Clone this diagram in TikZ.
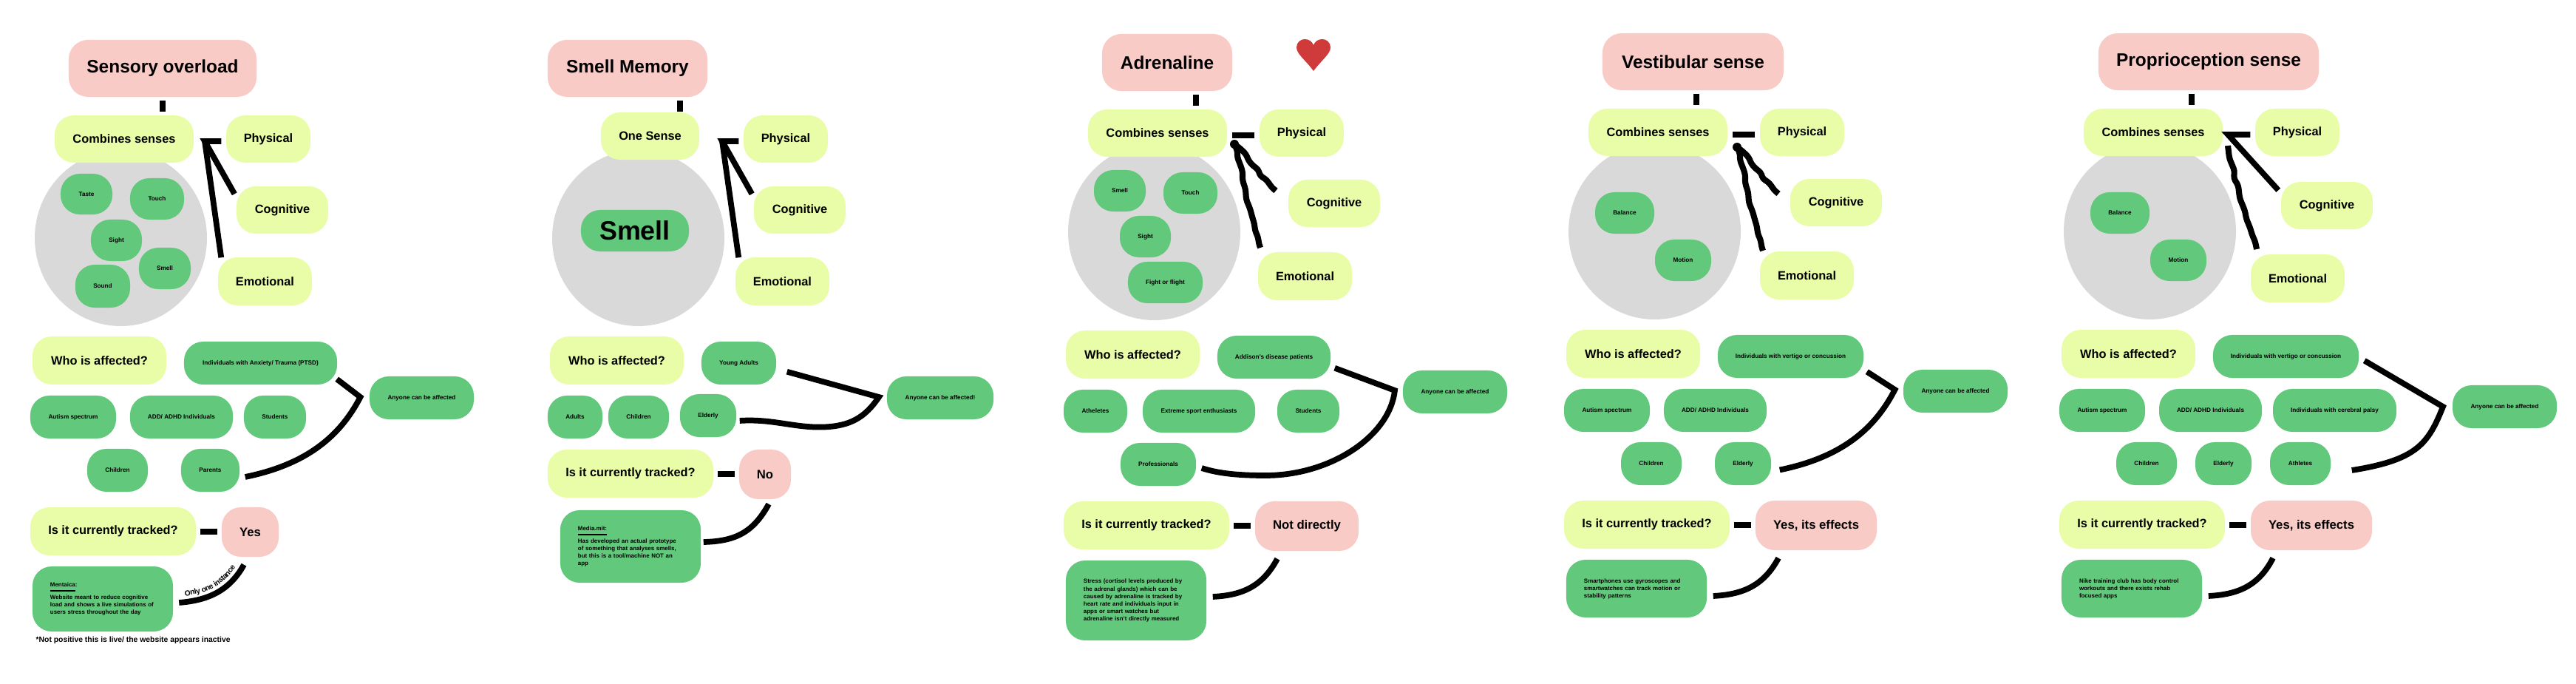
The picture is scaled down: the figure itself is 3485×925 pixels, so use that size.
\documentclass[tikz,border=0pt]{standalone}
\usepackage{fontspec}
\setmainfont{Liberation Sans}
\usepackage{xcolor}
\usetikzlibrary{calc,decorations.text}
\definecolor{topicbg}{HTML}{F8CBC6}
\definecolor{askbg}{HTML}{E9FDA8}
\definecolor{leafbg}{HTML}{62C97C}
\definecolor{blobbg}{HTML}{D9D9D9}
\definecolor{heartred}{HTML}{CF3A3B}
\def\onefont{\fontsize{2.9}{3.4}\selectfont\bfseries}
\tikzset{
  boxed/.style={rectangle, rounded corners=7.4pt, inner sep=0pt, align=center, text=black},
  sz/.style 2 args={minimum width=#1*0.2845pt, minimum height=#2*0.2845pt},
  topic/.style={boxed, fill=topicbg, font=\fontsize{6.95}{8}\selectfont\bfseries},
  answer/.style={boxed, fill=topicbg, font=\fontsize{4.75}{6}\selectfont\bfseries},
  ask/.style={boxed, fill=askbg, font=\fontsize{4.65}{6}\selectfont\bfseries},
  leaf/.style={boxed, fill=leafbg, font=\fontsize{2.33}{2.85}\selectfont\bfseries},
  bigleaf/.style={boxed, fill=leafbg, font=\fontsize{10.2}{12}\selectfont\bfseries},
  para/.style={leaf, align=left, text width=40.4pt, font=\fontsize{2.25}{2.85}\selectfont\bfseries},
  note/.style={inner sep=0pt, text=black, font=\fontsize{2.95}{3.4}\selectfont\bfseries},
  blob/.style={fill=blobbg},
  link/.style={draw=black, line width=2.2pt},
  scrawl/.style={draw=black, line width=2.3pt, rounded corners=1pt},
  hubdot/.style={fill=black},
}
\def\wigcog{-- ++(8,6) -- ++(8,8) -- ++(3,8) -- ++(6,7) -- ++(7,5) -- ++(3,9) -- ++(7,4) -- ++(5,6) -- ++(3,5) -- ++(6,5)}
\def\wigemo{-- ++(4,9) -- ++(0,9) -- ++(4,10) -- ++(3,9) -- ++(0,12) -- ++(4,12) -- ++(1,14) -- ++(5,12) -- ++(3,11) -- ++(3,10) -- ++(1,9) -- ++(4,9) -- ++(1,8) -- ++(2,6)}
\begin{document}
\begin{tikzpicture}[x=0.01cm,y=-0.01cm]
  \useasboundingbox (0,0) rectangle (3485,925);

  % panel 1
  \fill[blob] (163.5,322) ellipse [x radius=116.5, y radius=119];
  \node[topic,sz={254}{77}] (title1) at (220,92.5) {Sensory overload};
  \node[ask,sz={188}{64}] (combine1) at (168,188) {Combines senses};
  \node[ask,sz={114}{64}] (physical1) at (363,188) {Physical};
  \node[ask,sz={124}{64}] (cognitive1) at (382,284) {Cognitive};
  \node[ask,sz={127}{65}] (emotional1) at (358.5,380.5) {Emotional};
  \node[leaf,sz={70}{55}] (taste1) at (117,262.5) {Taste};
  \node[leaf,sz={73}{56}] (touch1) at (212.5,269) {Touch};
  \node[leaf,sz={69}{56}] (sight1) at (157.5,325) {Sight};
  \node[leaf,sz={70}{56}] (smell1) at (223,363) {Smell};
  \node[leaf,sz={74}{58}] (sound1) at (139,387) {Sound};
  \node[ask,sz={181}{65}] (who1) at (134.5,487.5) {Who is affected?};
  \node[leaf,sz={207}{58}] (anxiety1) at (352.5,491) {Individuals with Anxiety/ Trauma (PTSD)};
  \node[leaf,sz={141}{58}] (anyone1) at (570.5,538) {Anyone can be affected};
  \node[leaf,sz={116}{58}] (autism1) at (99,564) {Autism spectrum};
  \node[leaf,sz={139}{58}] (adhd1) at (245.5,564) {ADD/ ADHD Individuals};
  \node[leaf,sz={84}{58}] (students1) at (372,564) {Students};
  \node[leaf,sz={82}{58}] (children1) at (159,636) {Children};
  \node[leaf,sz={79}{58}] (parents1) at (284.5,636) {Parents};
  \node[ask,sz={224}{65}] (tracked1) at (153,718.5) {Is it currently tracked?};
  \node[answer,sz={77}{67}] (yes1) at (338.5,719.5) {Yes};
  \node[para,sz={190}{88}] (mentaica1) at (139,810) {\underline{Mentaica}:\\Website meant to reduce cognitive\\load and shows a live simulations of\\users stress throughout the day};
  \node[note,anchor=west] (foot1) at (48,866) {*Not positive this is live/ the website appears inactive};
  \coordinate (hub1) at (277,191);
  \coordinate (elbow1) at (487.5,537);
  \draw[link] ([shift={(0,4)}]title1.south) -- ([shift={(52,-4)}]combine1.north);
  \draw[link] ([shift={(-6,3)}]physical1.west) -- (hub1) -- ([shift={(-2,11)}]cognitive1.north west);
  \draw[link] (hub1) -- ([shift={(5,1)}]emotional1.north west);
  \draw[link] ([shift={(-1,-8)}]anxiety1.south east) -- (elbow1) .. controls (460,590) and (415,628) .. ([shift={(7,9)}]parents1.east);
  \draw[link] ([shift={(5,0.5)}]tracked1.east) -- ([shift={(-5,-0.5)}]yes1.west);
  \draw[link] ([shift={(-8.5,10)}]yes1.south) .. controls (310,800) and (280,812) .. ([shift={(7.5,5)}]mentaica1.east);
  \path[decorate,decoration={text along path,raise=2.3pt,text align={center},text={|\onefont|Only one instance}}]
    ([shift={(7.5,5)}]mentaica1.east) .. controls (280,812) and (310,800) .. ([shift={(-8.5,10)}]yes1.south);

  % panel 2
  \fill[blob] (863.5,322) ellipse [x radius=116.5, y radius=119];
  \node[topic,sz={216}{77}] (title2) at (849,92.5) {Smell Memory};
  \node[ask,sz={133}{64}] (onesense2) at (879.5,184) {One Sense};
  \node[ask,sz={114}{64}] (physical2) at (1063,188) {Physical};
  \node[ask,sz={124}{64}] (cognitive2) at (1082,284) {Cognitive};
  \node[ask,sz={127}{65}] (emotional2) at (1058.5,380.5) {Emotional};
  \node[bigleaf,sz={146}{56}] (smell2) at (859,312) {Smell};
  \node[ask,sz={181}{65}] (who2) at (834.5,487.5) {Who is affected?};
  \node[leaf,sz={101}{58}] (young2) at (999.5,491) {Young Adults};
  \node[leaf,sz={144}{58}] (anyone2) at (1272,538) {Anyone can be affected!};
  \node[leaf,sz={74}{58}] (adults2) at (778,564) {Adults};
  \node[leaf,sz={82}{58}] (children2) at (864,564) {Children};
  \node[leaf,sz={76}{58}] (elderly2) at (958,562) {Elderly};
  \node[ask,sz={224}{65}] (tracked2) at (853,640.5) {Is it currently tracked?};
  \node[answer,sz={70}{67}] (no2) at (1035,641.5) {No};
  \node[para,sz={190}{98}] (media2) at (853,739) {\underline{Media.mit:}\\Has developed an actual prototype\\of something that analyses smells,\\but this is a tool/machine NOT an\\app};
  \coordinate (hub2) at (977,191);
  \coordinate (elbow2) at (1189,537);
  \draw[link] ([shift={(71,4)}]title2.south) -- ([shift={(40.5,0)}]onesense2.north);
  \draw[link] ([shift={(-6,3)}]physical2.west) -- (hub2) -- ([shift={(-2,11)}]cognitive2.north west);
  \draw[link] (hub2) -- ([shift={(5,1)}]emotional2.north west);
  \draw[link] ([shift={(14,-18)}]young2.south east) -- (elbow2) .. controls (1170,565) and (1150,576) .. (1115,577.5) .. controls (1075,579) and (1045,566) .. ([shift={(4,7)}]elderly2.east);
  \draw[link] ([shift={(5,0.5)}]tracked2.east) -- ([shift={(-5,-0.5)}]no2.west);
  \draw[link] ([shift={(5,6)}]no2.south) .. controls (1019,720) and (995,732) .. ([shift={(3,-6)}]media2.east);

  % panel 3
  \fill[blob] (1561.5,314) ellipse [x radius=116.5, y radius=119];
  \node[topic,sz={176}{77}] (title3) at (1579,84.5) {Adrenaline};
  \fill[heartred] (1777,96) .. controls (1766,81) and (1754,73) .. (1754,64) .. controls (1754,57) and (1760,53) .. (1765,53)
    .. controls (1771,53) and (1775,56) .. (1777,61) .. controls (1779,56) and (1783,53) .. (1789,53)
    .. controls (1794,53) and (1800,57) .. (1800,64) .. controls (1800,73) and (1788,81) .. (1777,96) -- cycle;
  \node[ask,sz={188}{64}] (combine3) at (1566,180) {Combines senses};
  \node[ask,sz={114}{64}] (physical3) at (1761,180) {Physical};
  \node[ask,sz={124}{64}] (cognitive3) at (1805,275) {Cognitive};
  \node[ask,sz={127}{65}] (emotional3) at (1765.5,373.5) {Emotional};
  \node[leaf,sz={70}{56}] (smell3) at (1515,258) {Smell};
  \node[leaf,sz={73}{56}] (touch3) at (1610.5,261) {Touch};
  \node[leaf,sz={69}{56}] (sight3) at (1549.5,320) {Sight};
  \node[leaf,sz={101}{56}] (fight3) at (1576.5,382) {Fight or flight};
  \node[ask,sz={181}{65}] (who3) at (1532.5,479.5) {Who is affected?};
  \node[leaf,sz={153}{58}] (addison3) at (1723.5,483) {Addison's disease patients};
  \node[leaf,sz={141}{58}] (anyone3) at (1968.5,530) {Anyone can be affected};
  \node[leaf,sz={86}{58}] (atheletes3) at (1482,556) {Atheletes};
  \node[leaf,sz={152}{58}] (extreme3) at (1622,556) {Extreme sport enthusiasts};
  \node[leaf,sz={84}{58}] (students3) at (1770,556) {Students};
  \node[leaf,sz={102}{58}] (pros3) at (1567,628) {Professionals};
  \node[ask,sz={224}{65}] (tracked3) at (1551,710.5) {Is it currently tracked?};
  \node[answer,sz={140}{67}] (notdirect3) at (1768,711.5) {Not directly};
  \node[para,sz={190}{108}] (stress3) at (1537,812) {Stress (cortisol levels produced by\\the adrenal glands) which can be\\caused by adrenaline is tracked by\\heart rate and individuals input in\\apps or smart watches but\\adrenaline isn't directly measured};
  \coordinate (hub3) at (1670,195);
  \coordinate (elbow3) at (1887,528);
  \draw[link] ([shift={(39,4)}]title3.south) -- ([shift={(52,-4)}]combine3.north);
  \draw[link] ([shift={(-6,3)}]physical3.west) -- ([shift={(6,3)}]combine3.east);
  \fill[hubdot] (hub3) circle (6);
  \draw[scrawl] (hub3) \wigcog;
  \draw[scrawl] (hub3) \wigemo;
  \draw[link] ([shift={(5,-15)}]addison3.south east) -- (elbow3) .. controls (1880,590) and (1800,643) .. (1712,643) .. controls (1680,643) and (1650,641) .. ([shift={(7,5)}]pros3.east);
  \draw[link] ([shift={(5,0.5)}]tracked3.east) -- ([shift={(-5,-0.5)}]notdirect3.west);
  \draw[link] ([shift={(-40,10)}]notdirect3.south) .. controls (1708,793) and (1681,805) .. ([shift={(8,-5)}]stress3.east);

  % panel 4
  \fill[blob] (2238.5,313) ellipse [x radius=116.5, y radius=119];
  \node[topic,sz={245}{77}] (title4) at (2290.5,83.5) {Vestibular sense};
  \node[ask,sz={188}{64}] (combine4) at (2243,179) {Combines senses};
  \node[ask,sz={114}{64}] (physical4) at (2438,179) {Physical};
  \node[ask,sz={124}{64}] (cognitive4) at (2484,274) {Cognitive};
  \node[ask,sz={127}{65}] (emotional4) at (2444.5,372.5) {Emotional};
  \node[leaf,sz={80}{56}] (balance4) at (2198,288) {Balance};
  \node[leaf,sz={76}{56}] (motion4) at (2277,352) {Motion};
  \node[ask,sz={181}{65}] (who4) at (2209.5,478.5) {Who is affected?};
  \node[leaf,sz={197}{58}] (vertigo4) at (2422.5,482) {Individuals with vertigo or concussion};
  \node[leaf,sz={141}{58}] (anyone4) at (2645.5,529) {Anyone can be affected};
  \node[leaf,sz={116}{58}] (autism4) at (2174,555) {Autism spectrum};
  \node[leaf,sz={139}{58}] (adhd4) at (2320.5,555) {ADD/ ADHD Individuals};
  \node[leaf,sz={82}{58}] (children4) at (2234,627) {Children};
  \node[leaf,sz={76}{58}] (elderly4) at (2358,627) {Elderly};
  \node[ask,sz={224}{65}] (tracked4) at (2228,709.5) {Is it currently tracked?};
  \node[answer,sz={164}{67}] (effects4) at (2457,710.5) {Yes, its effects};
  \node[para,sz={190}{78}] (phones4) at (2214,796) {Smartphones use gyroscopes and\\smartwatches can track motion or\\stability patterns};
  \coordinate (hub4) at (2350,199);
  \coordinate (elbow4) at (2563.5,527);
  \draw[link] ([shift={(4.5,4)}]title4.south) -- ([shift={(52,-4)}]combine4.north);
  \draw[link] ([shift={(-6,3)}]physical4.west) -- ([shift={(6,3)}]combine4.east);
  \fill[hubdot] (hub4) circle (6);
  \draw[scrawl] (hub4) \wigcog;
  \draw[scrawl] (hub4) \wigemo;
  \draw[link] ([shift={(4,-9)}]vertigo4.south east) -- (elbow4) .. controls (2536,580.5) and (2491,618.5) .. ([shift={(11,8.5)}]elderly4.east);
  \draw[link] ([shift={(5,0.5)}]tracked4.east) -- ([shift={(-5,-0.5)}]effects4.west);
  \draw[link] ([shift={(-51,10)}]effects4.south) .. controls (2386,792) and (2358,804) .. ([shift={(8,10)}]phones4.east);

  % panel 5
  \fill[blob] (2908.5,313) ellipse [x radius=116.5, y radius=119];
  \node[topic,sz={298}{77}] (title5) at (2988,83.5) {Proprioception sense};
  \node[ask,sz={188}{64}] (combine5) at (2913,179) {Combines senses};
  \node[ask,sz={114}{64}] (physical5) at (3108,179) {Physical};
  \node[ask,sz={124}{64}] (cognitive5) at (3148,278) {Cognitive};
  \node[ask,sz={127}{65}] (emotional5) at (3108.5,376.5) {Emotional};
  \node[leaf,sz={80}{56}] (balance5) at (2868,288) {Balance};
  \node[leaf,sz={76}{56}] (motion5) at (2947,352) {Motion};
  \node[ask,sz={181}{65}] (who5) at (2879.5,478.5) {Who is affected?};
  \node[leaf,sz={197}{58}] (vertigo5) at (3092.5,482) {Individuals with vertigo or concussion};
  \node[leaf,sz={141}{58}] (anyone5) at (3388.5,550) {Anyone can be affected};
  \node[leaf,sz={116}{58}] (autism5) at (2844,555) {Autism spectrum};
  \node[leaf,sz={139}{58}] (adhd5) at (2990.5,555) {ADD/ ADHD Individuals};
  \node[leaf,sz={167}{58}] (palsy5) at (3158.5,555) {Individuals with cerebral palsy};
  \node[leaf,sz={82}{58}] (children5) at (2904,627) {Children};
  \node[leaf,sz={76}{58}] (elderly5) at (3008,627) {Elderly};
  \node[leaf,sz={82}{58}] (athletes5) at (3112,627) {Athletes};
  \node[ask,sz={224}{65}] (tracked5) at (2898,709.5) {Is it currently tracked?};
  \node[answer,sz={164}{67}] (effects5) at (3127,710.5) {Yes, its effects};
  \node[para,sz={190}{78}] (nike5) at (2884,796) {Nike training club has body control\\workouts and there exists rehab\\focused apps};
  \coordinate (hub5) at (3014,182);
  \coordinate (scrawl5) at (3014,197);
  \coordinate (elbow5) at (3305,550);
  \draw[link] ([shift={(-23,4)}]title5.south) -- ([shift={(52,-4)}]combine5.north);
  \draw[link] ([shift={(-6,3)}]physical5.west) -- (hub5) -- ([shift={(-3,12)}]cognitive5.north west);
  \draw[scrawl] (scrawl5) -- ++(2,17) -- ++(7,17) -- ++(-1,10) -- ++(6,10) -- ++(2,17) -- ++(7,17) -- ++(2,11) -- ++(5,12) -- ++(3,10) -- ++(4,9) -- ++(2,10);
  \draw[link] ([shift={(7,-24)}]vertigo5.south east) -- (elbow5) .. controls (3285,600) and (3270,622) .. ([shift={(28,9)}]athletes5.east);
  \draw[link] ([shift={(5,0.5)}]tracked5.east) -- ([shift={(-5,-0.5)}]effects5.west);
  \draw[link] ([shift={(-52,10)}]effects5.south) .. controls (3056,792) and (3028,804) .. ([shift={(8,10)}]nike5.east);
\end{tikzpicture}
\end{document}
